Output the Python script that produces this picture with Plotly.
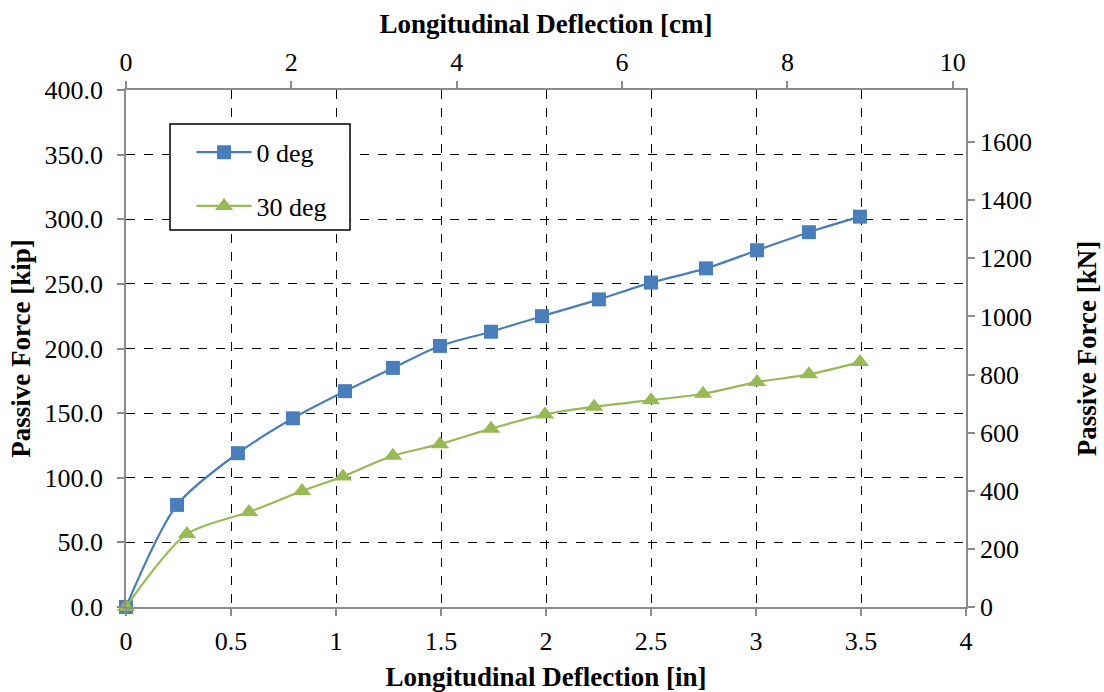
import plotly.graph_objects as go

# Data (inches, kip)
x_0deg = [0, 0.243, 0.533, 0.795, 1.043, 1.271, 1.495, 1.738, 1.981, 2.252, 2.50, 2.762, 3.005, 3.252, 3.495]
y_0deg = [0, 79, 119, 146, 167, 185, 202, 213, 225, 238, 251, 262, 276, 290, 302]
x_30deg = [0, 0.29, 0.586, 0.838, 1.033, 1.271, 1.495, 1.738, 1.995, 2.229, 2.50, 2.748, 3.005, 3.252, 3.495]
y_30deg = [0, 56.5, 73.5, 89.7, 101, 117, 126, 138, 149, 155, 160, 165, 174, 180, 189.5]

IN_TO_CM = 2.54
KIP_TO_KN = 4.448
x_range_in = [0, 4]
y_range_kip = [0, 400]

FONT = "Liberation Serif"
GRID = dict(showgrid=True, gridcolor="black", griddash="dash", gridwidth=1.2)

fig = go.Figure()
fig.add_trace(go.Scatter(
    x=x_0deg, y=y_0deg, name="0 deg", mode="lines+markers", cliponaxis=False,
    line=dict(color="#4a7ebb", width=2.2, shape="spline", smoothing=0.8),
    marker=dict(symbol="square", size=14, color="#4a7ebb"),
    legendgroup="a"))
fig.add_trace(go.Scatter(
    x=x_30deg, y=y_30deg, name="30 deg", mode="lines+markers", cliponaxis=False,
    line=dict(color="#98b954", width=2.2, shape="spline", smoothing=0.8),
    marker=dict(symbol="triangle-up", size=16, color="#98b954"),
    legendgroup="b"))
# invisible trace to activate secondary axes
fig.add_trace(go.Scatter(x=[0], y=[0], xaxis="x2", yaxis="y2", mode="markers",
                         marker=dict(opacity=0), showlegend=False, hoverinfo="skip"))

axis_common = dict(showline=True, linecolor="#8c8c8c", linewidth=1.5, ticks="outside",
                   tickcolor="#8c8c8c", ticklen=7, tickwidth=1.5, zeroline=False, automargin=False,
                   tickfont=dict(family=FONT, size=26, color="black"))
TITLE_FONT = dict(family=FONT, size=27, color="black")

# legend frame (paper coordinates)
fig.add_shape(type="rect", xref="paper", yref="paper",
              x0=0.0524, x1=0.2667, y0=0.729, y1=0.934,
              line=dict(color="black", width=1.5), fillcolor="white", layer="above")

fig.update_layout(
    width=1104, height=692,
    paper_bgcolor="white", plot_bgcolor="white",
    margin=dict(l=126, r=138, t=90, b=85),
    font=dict(family=FONT, color="black"),
    xaxis=dict(range=x_range_in, dtick=0.5, tick0=0, **GRID, **axis_common, ticklabelstandoff=3,
               title=dict(text="<b>Longitudinal Deflection [in]</b>", font=TITLE_FONT, standoff=14)),
    yaxis=dict(range=y_range_kip, dtick=50, tick0=0, tickformat=".1f", **GRID, **axis_common,
               ticklabelstandoff=9,
               title=dict(text="<b>Passive Force [kip]</b>", font=TITLE_FONT, standoff=6)),
    xaxis2=dict(range=[x_range_in[0] * IN_TO_CM, x_range_in[1] * IN_TO_CM], dtick=2, tick0=0,
                overlaying="x", side="top", showgrid=False, **axis_common,
                title=dict(text="<b>Longitudinal Deflection [cm]</b>", font=TITLE_FONT, standoff=6)),
    yaxis2=dict(range=[y_range_kip[0] * KIP_TO_KN, y_range_kip[1] * KIP_TO_KN], dtick=200, tick0=0,
                overlaying="y", side="right", showgrid=False, **axis_common,
                title=dict(text="<b>Passive Force [kN]</b>", font=TITLE_FONT, standoff=46)),
    legend=dict(x=0.078, y=0.925, xanchor="left", yanchor="top",
                bgcolor="rgba(0,0,0,0)", borderwidth=0,
                font=dict(family=FONT, size=26, color="black"),
                tracegroupgap=17, traceorder="grouped", itemwidth=55),
    showlegend=True,
)

fig.write_html("out.html")
